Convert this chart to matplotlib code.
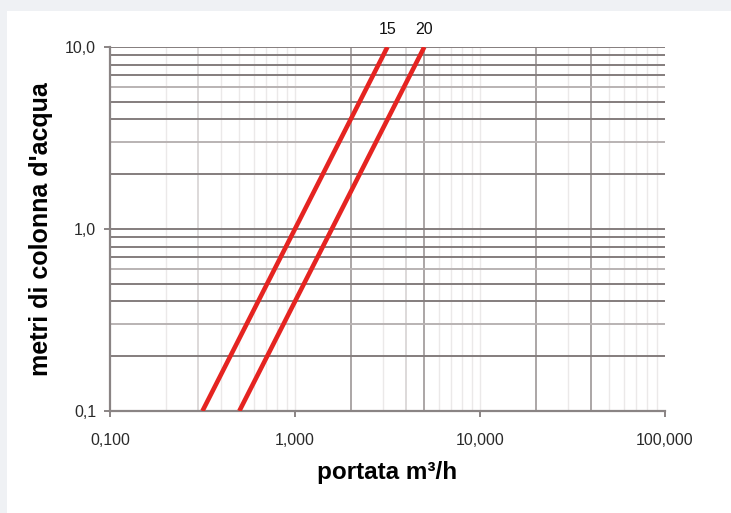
import numpy as np
import matplotlib.pyplot as plt
from matplotlib.patches import Rectangle

plt.rcParams['font.family'] = ['Liberation Sans', 'DejaVu Sans']

# dati (portata m3/h, perdita di carico m c.a.)
dp = [0.1, 10.0]
q15 = [0.316, 3.16]
q20 = [0.50, 5.0]
serie = ['15', '20']

x_ticks = [0.1, 1, 10, 100]
x_labels = ['0,100', '1,000', '10,000', '100,000']
y_ticks = [0.1, 1, 10]
y_labels = ['0,1', '1,0', '10,0']

fig = plt.figure(figsize=(7.31, 5.13), dpi=100)
fig.patch.set_facecolor('#eff1f4')
fig.patches.append(Rectangle((0.009, 0), 0.991, 0.979, transform=fig.transFigure,
                             facecolor='white', edgecolor='none', zorder=-10))

ax = fig.add_axes([0.1505, 0.1988, 0.7592, 0.7096])
ax.set_xscale('log')
ax.set_yscale('log')
ax.set_xlim(0.1, 100)
ax.set_ylim(0.1, 10)

# griglia verticale
dark_v = [2, 5, 20, 40]
mid_v = [0.3, 4]
for dec in [0.1, 1, 10]:
    for k in range(1, 10):
        xv = dec * k
        if xv <= 0.1 or xv >= 100:
            continue
        if any(np.isclose(xv, d) for d in dark_v):
            ax.axvline(xv, color='#a59f9f', lw=1.3, zorder=1)
        elif any(np.isclose(xv, d) for d in mid_v):
            ax.axvline(xv, color='#d3cfcf', lw=1.1, zorder=1)
        else:
            ax.axvline(xv, color='#ebe9e9', lw=1.0, zorder=1)

# griglia orizzontale
light_h = [0.3, 0.6, 3, 6]
for dec in [0.1, 1]:
    for k in range(1, 10):
        yv = dec * k
        if yv <= 0.1:
            continue
        c = '#b9b3b3' if any(np.isclose(yv, d) for d in light_h) else '#847d7d'
        ax.axhline(yv, color=c, lw=1.4, zorder=1)
ax.axhline(10, color='#847d7d', lw=1.4, zorder=1)

ax.plot(q15, dp, color='#e52421', lw=3.3, zorder=3, solid_capstyle='butt')
ax.plot(q20, dp, color='#e52421', lw=3.3, zorder=3, solid_capstyle='butt')

for q, s in zip([q15, q20], serie):
    ax.annotate(s, xy=(q[1], 10), xytext=(0, 7), textcoords='offset points',
                ha='center', va='bottom', fontsize=11.5, color='#111111')

ax.set_xticks(x_ticks)
ax.set_xticklabels(x_labels)
ax.set_yticks(y_ticks)
ax.set_yticklabels(y_labels)
ax.minorticks_off()
ax.tick_params(axis='both', colors='#777070', labelcolor='#2a2a2a', labelsize=11.5,
               length=4, width=1.2)
ax.tick_params(axis='x', pad=12)
ax.tick_params(axis='y', pad=6)

for s in ['top', 'right']:
    ax.spines[s].set_visible(False)
for s in ['left', 'bottom']:
    ax.spines[s].set_color('#8a8484')
    ax.spines[s].set_linewidth(1.6)

ax.set_xlabel('portata m³/h', fontsize=17.5, fontweight='bold', labelpad=9)
ax.set_ylabel("metri di colonna d'acqua", fontsize=18, fontweight='bold', labelpad=9)

fig.savefig('out.png', dpi=100, facecolor=fig.get_facecolor())
